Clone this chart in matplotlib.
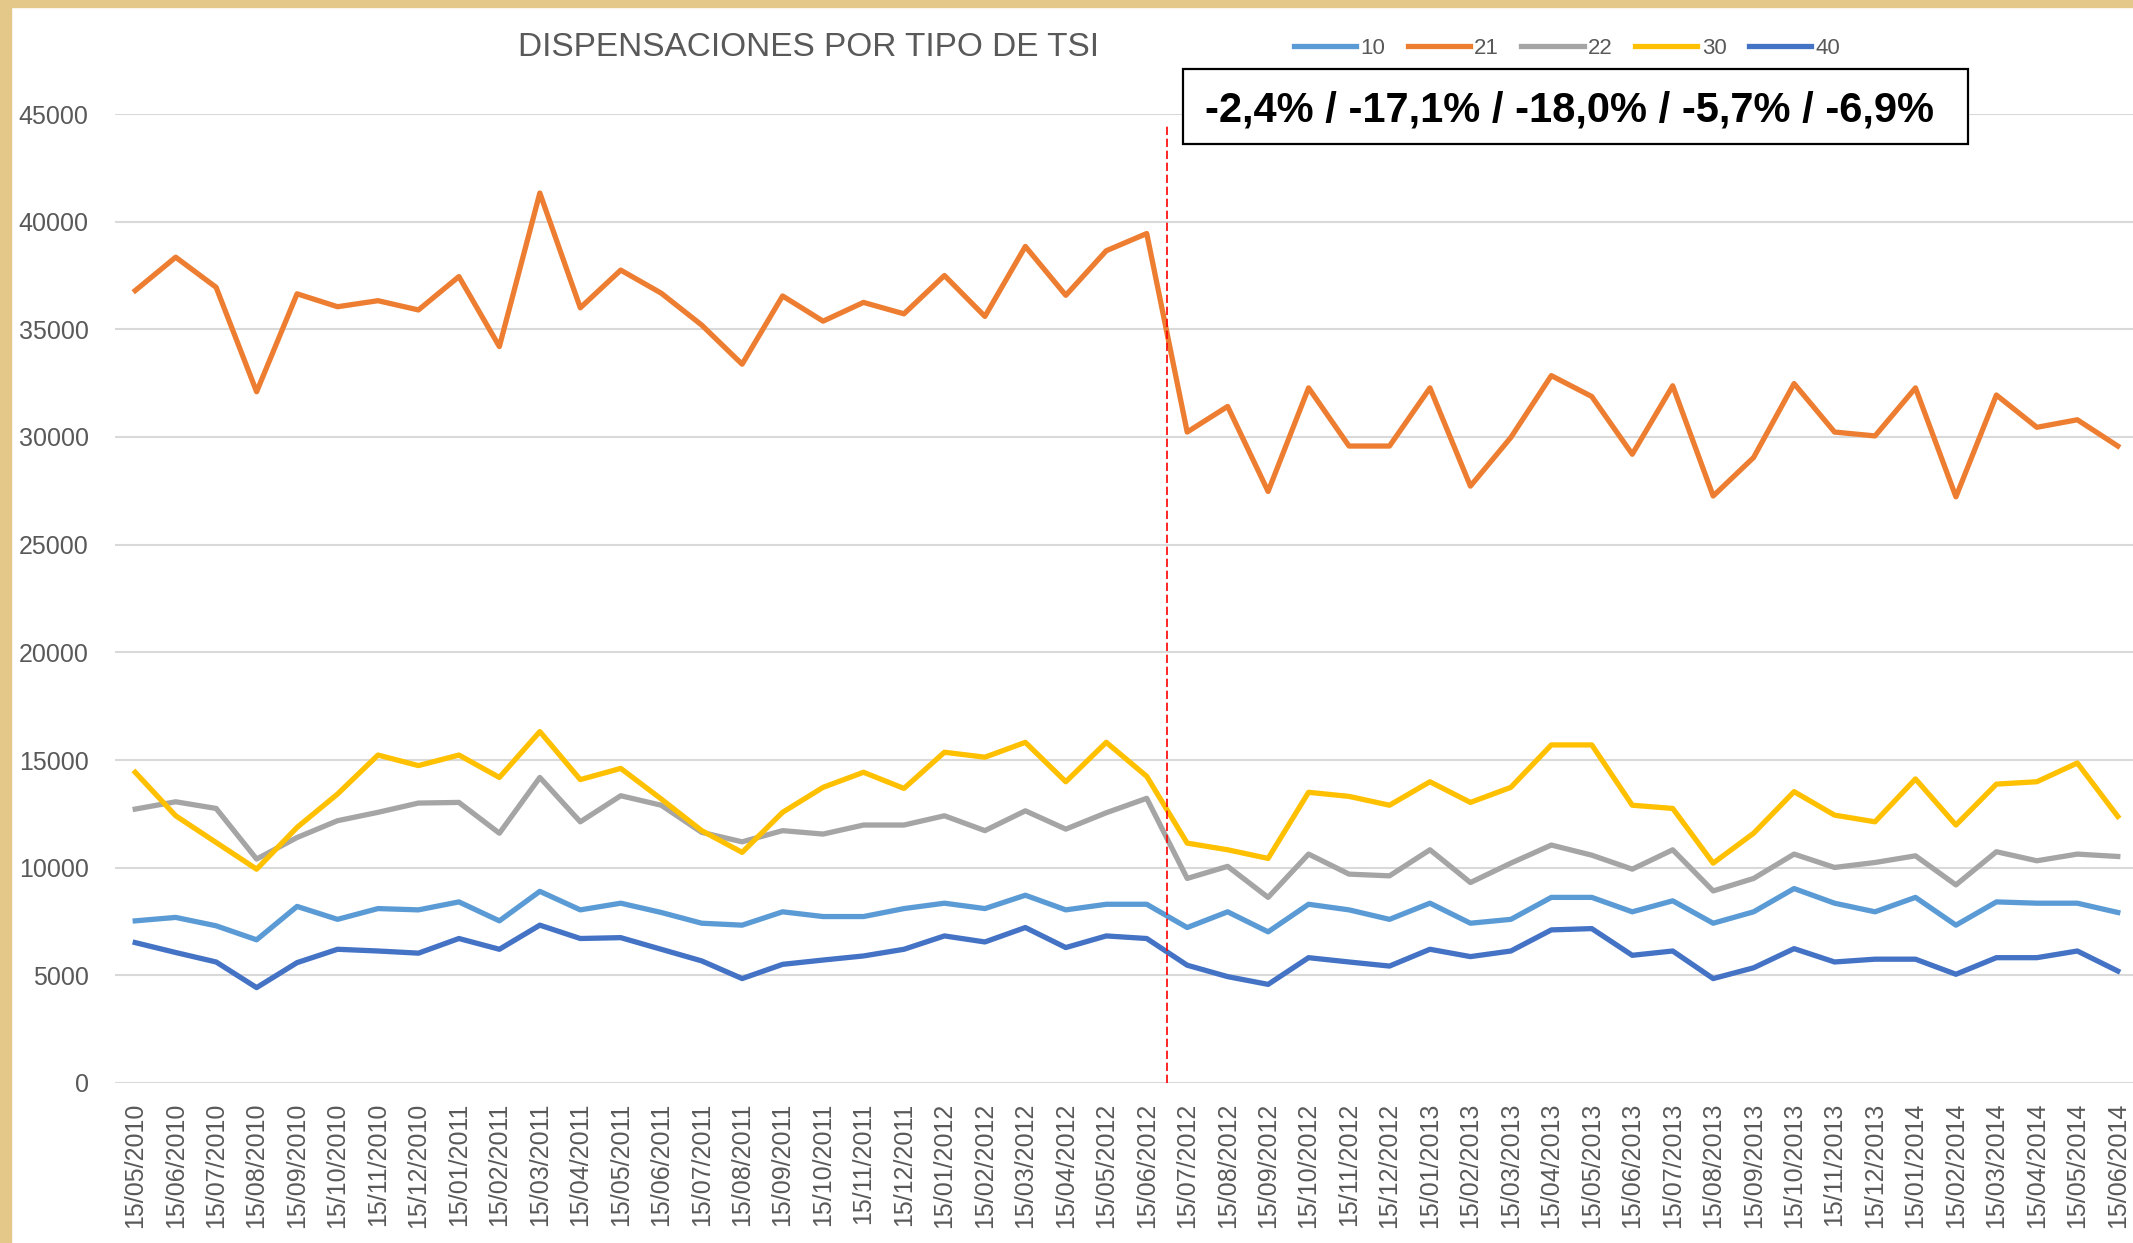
import pandas as pd
import matplotlib
matplotlib.use('Agg')
import matplotlib.pyplot as plt
from matplotlib.patches import Rectangle

# monthly dispensations per TSI type, 15/05/2010 .. 15/06/2014
dates = pd.date_range('2010-05-01', periods=50, freq='MS') + pd.Timedelta(days=14)
labels = [d.strftime('%d/%m/%Y') for d in dates]

tsi_10 = [7530, 7690, 7300, 6650, 8200, 7600, 8100, 8040, 8410, 7530,
          8900, 8040, 8350, 7920, 7420, 7330, 7950, 7730, 7730, 8100,
          8350, 8100, 8720, 8040, 8300, 8300, 7220, 7950, 7020, 8300,
          8040, 7600, 8350, 7420, 7600, 8620, 8620, 7950, 8460, 7420,
          7950, 9030, 8350, 7950, 8620, 7330, 8410, 8350, 8350, 7920]
tsi_21 = [36800, 38350, 36950, 32100, 36650, 36050, 36330, 35900, 37450, 34200,
          41330, 36000, 37750, 36680, 35200, 33380, 36550, 35380, 36250, 35720,
          37500, 35600, 38850, 36580, 38650, 39450, 30230, 31420, 27470, 32280,
          29580, 29580, 32280, 27720, 29980, 32850, 31880, 29200, 32380, 27260,
          29050, 32480, 30230, 30050, 32280, 27220, 31950, 30450, 30800, 29580]
tsi_22 = [12720, 13060, 12750, 10400, 11400, 12180, 12570, 13000, 13030, 11600,
          14190, 12130, 13340, 12900, 11640, 11200, 11720, 11560, 11980, 11980,
          12410, 11720, 12640, 11790, 12550, 13220, 9500, 10060, 8620, 10630,
          9700, 9620, 10830, 9310, 10210, 11050, 10580, 9930, 10830, 8920,
          9500, 10630, 10010, 10240, 10550, 9200, 10740, 10320, 10630, 10520]
tsi_30 = [14430, 12410, 11170, 9930, 11870, 13420, 15230, 14740, 15230, 14190,
          16320, 14090, 14610, 13190, 11720, 10710, 12570, 13730, 14430, 13680,
          15360, 15130, 15820, 13990, 15820, 14240, 11140, 10830, 10430, 13500,
          13310, 12900, 13990, 13030, 13730, 15700, 15700, 12900, 12750, 10210,
          11600, 13530, 12440, 12130, 14120, 11980, 13880, 13990, 14860, 12380]
tsi_40 = [6520, 6060, 5620, 4430, 5590, 6210, 6130, 6030, 6710, 6210,
          7330, 6710, 6750, 6210, 5670, 4850, 5510, 5710, 5900, 6210,
          6830, 6550, 7220, 6290, 6830, 6710, 5470, 4940, 4580, 5820,
          5620, 5430, 6210, 5870, 6130, 7110, 7170, 5930, 6130, 4850,
          5350, 6240, 5620, 5750, 5750, 5050, 5820, 5820, 6130, 5200]

series_names = ['10', '21', '22', '30', '40']
series_colors = ['#5B9BD5', '#ED7D31', '#A5A5A5', '#FFC000', '#4472C4']
change_text = '-2,4% / -17,1% / -18,0% / -5,7% / -6,9%'
break_pos = 25.5   # between 15/06/2012 and 15/07/2012

W, H = 2133, 1243
fig = plt.figure(figsize=(W / 100, H / 100), dpi=100)
fig.patch.set_facecolor('white')

# tan frame on the left and top edges
tan = '#E4C88A'
fig.patches.append(Rectangle((0, 0), 11 / W, 1, transform=fig.transFigure, color=tan, zorder=0))
fig.patches.append(Rectangle((0, 1 - 7 / H), 1, 7 / H, transform=fig.transFigure, color=tan, zorder=0))

ax = fig.add_axes([115 / W, 160 / H, (W - 115) / W, 969 / H])
ax.set_facecolor('none')

x = list(range(len(labels)))
for vals, name, col in zip([tsi_10, tsi_21, tsi_22, tsi_30, tsi_40], series_names, series_colors):
    ax.plot(x, vals, color=col, lw=3.8, label=name, solid_joinstyle='round', zorder=3)

ax.plot([break_pos, break_pos], [0, 44600], color='red', lw=1.2,
        linestyle=(0, (5, 2.2)), zorder=4)

ax.set_xlim(-0.5, -0.5 + (W - 115) / 40.46)
ax.set_ylim(0, 45000)
ax.set_yticks(range(0, 45001, 5000))
ax.yaxis.grid(True, color='#D9D9D9', lw=1.5)
ax.set_axisbelow(True)
for s in ax.spines.values():
    s.set_visible(False)

ax.set_xticks(x)
ax.set_xticklabels(labels, rotation=90, family='Liberation Sans', fontsize=18, color='#595959')
ax.tick_params(axis='x', length=0, pad=14)
ax.tick_params(axis='y', length=0, pad=19, labelsize=18, labelcolor='#595959')
for t in ax.get_yticklabels():
    t.set_family('Liberation Sans')

fig.text(808 / W, 1 - 47 / H, 'DISPENSACIONES POR TIPO DE TSI', ha='center', va='center',
         family='Liberation Sans', fontsize=24, color='#595959')

fig.legend(loc='center', bbox_to_anchor=(1567 / W, 1 - 48 / H), ncol=5, frameon=False,
           prop={'family': 'Liberation Sans', 'size': 16},
           labelcolor='#595959', handlelength=2.8, handletextpad=0.2, columnspacing=1.0)

fig.patches.append(Rectangle((1183 / W, 1 - 144 / H), 785 / W, 75 / H, transform=fig.transFigure,
                             facecolor='white', edgecolor='black', lw=1.6, zorder=5))
fig.text(1205 / W, 1 - 110 / H, change_text, ha='left', va='center', fontweight='bold',
         family='Liberation Sans', fontsize=30, color='black', zorder=6)

fig.savefig('out.png', dpi=100)
